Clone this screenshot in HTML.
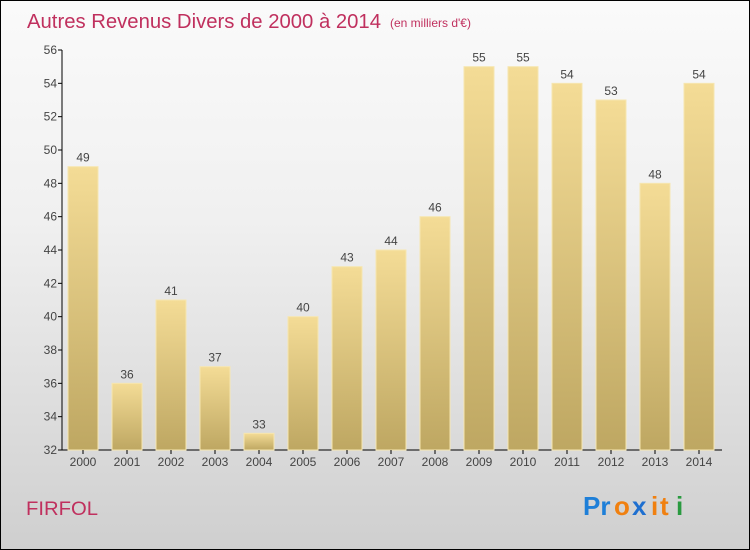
<!DOCTYPE html>
<html><head><meta charset="utf-8"><style>
body{margin:0;width:750px;height:550px;overflow:hidden}
#c{position:absolute;left:0;top:0;width:748px;height:548px;border:1px solid #000;background:linear-gradient(#fafafa,#f0f0f0 40%,#cfcfcf)}
text{font-family:"Liberation Sans",sans-serif}
</style></head><body>
<div id="c">
<svg id="s" width="750" height="550" style="position:absolute;left:-1px;top:-1px">
<defs><linearGradient id="g" x1="0" y1="0" x2="0" y2="1"><stop offset="0" stop-color="#f4dc96"/><stop offset="1" stop-color="#bea762"/></linearGradient></defs>
<text x="27" y="28" font-size="20" fill="#c0305e" textLength="354" lengthAdjust="spacingAndGlyphs">Autres Revenus Divers de 2000 à 2014</text>
<text x="390" y="27" font-size="12" fill="#c0305e">(en milliers d'€)</text>
<text x="26" y="515" font-size="19" fill="#c0305e" textLength="72" lengthAdjust="spacingAndGlyphs">FIRFOL</text>
<g font-size="26" font-weight="bold">
<text x="583" y="515" fill="#1e7fd8">Pr</text><text x="614" y="515" fill="#f08010">o</text><text x="632" y="515" fill="#1e6fd0">x</text><text x="651" y="515" fill="#f08010">i</text><text x="660" y="515" fill="#f08010">t</text><text x="676" y="515" fill="#2a9a40">i</text>
</g>
<g id="plot"></g>
</svg></div>
<script>
const years=["2000","2001","2002","2003","2004","2005","2006","2007","2008","2009","2010","2011","2012","2013","2014"];
const values=[49,36,41,37,33,40,43,44,46,55,55,54,53,48,54];
const yTicks=[32,34,36,38,40,42,44,46,48,50,52,54,56];
const NS="http://www.w3.org/2000/svg";
const g=document.getElementById('plot');
const x0=62,step=44,yTop=50,yBot=450,vmin=32,vmax=56;
const y=v=>yBot-(v-vmin)/(vmax-vmin)*(yBot-yTop);
function mk(t,a,p){const e=document.createElementNS(NS,t);for(const k in a)e.setAttribute(k,a[k]);(p||g).appendChild(e);return e;}
let ax=mk('line',{x1:x0,y1:yTop,x2:x0,y2:yBot,stroke:'#000'});


let bx=mk('line',{x1:x0,y1:yBot,x2:x0+step*years.length,y2:yBot,stroke:'#000'});


yTicks.forEach(v=>{
 mk('line',{x1:x0-4,y1:y(v),x2:x0,y2:y(v),stroke:'#000'});
 const t=mk('text',{x:x0-5,y:y(v)+4,'text-anchor':'end','font-size':12,fill:'#444'});t.textContent=v;
 
 
});
years.forEach((yr,i)=>{
 const bxl=x0+6+i*step,w=30;
 const r=mk('rect',{x:bxl,y:y(values[i]),width:w,height:yBot-y(values[i]),fill:'url(#g)',stroke:'#f6e6b0','stroke-width':1});
 
 
 const l=mk('text',{x:bxl+w/2,y:y(values[i])-5,'text-anchor':'middle','font-size':12,fill:'#444'});l.textContent=values[i];
 
 
 mk('line',{x1:bxl+w/2,y1:yBot,x2:bxl+w/2,y2:yBot+4,stroke:'#000'});
 const xl=mk('text',{x:bxl+w/2,y:yBot+16,'text-anchor':'middle','font-size':12,fill:'#444'});xl.textContent=yr;
 
 
});
</script>
</body></html>
